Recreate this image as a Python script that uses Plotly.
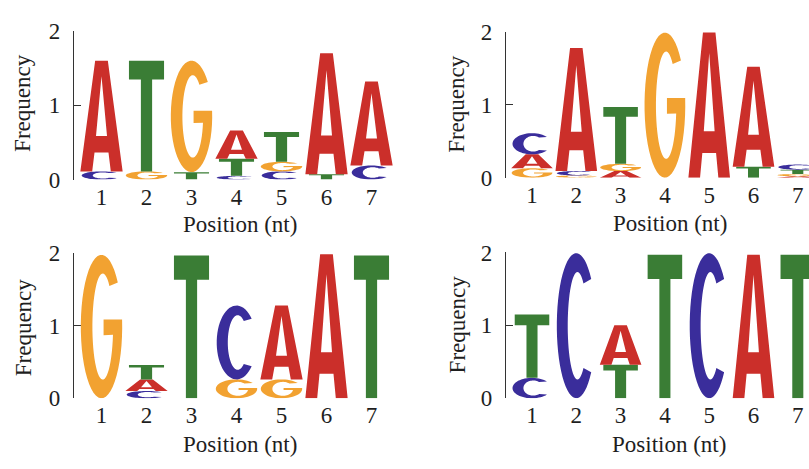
import numpy as np
import plotly.graph_objects as go

W, H = 809, 469
positions = [1, 2, 3, 4, 5, 6, 7]
tick_text = ["1", "2", "3", "4", "5", "6", "7"]

# Information content (bits) of each base at each motif position
m1_A = [1.49, 0.00, 0.00, 0.38, 0.00, 1.63, 1.13]
m1_C = [0.11, 0.00, 0.00, 0.05, 0.11, 0.00, 0.19]
m1_G = [0.00, 0.11, 1.50, 0.00, 0.13, 0.00, 0.00]
m1_T = [0.00, 1.49, 0.10, 0.23, 0.40, 0.07, 0.00]

m2_A = [0.19, 1.69, 0.09, 0.00, 1.99, 1.37, 0.02]
m2_C = [0.29, 0.06, 0.00, 0.00, 0.00, 0.00, 0.07]
m2_G = [0.13, 0.03, 0.10, 1.99, 0.00, 0.00, 0.03]
m2_T = [0.00, 0.00, 0.78, 0.00, 0.00, 0.15, 0.06]

m3_A = [0.00, 0.16, 0.00, 0.00, 1.02, 1.99, 0.00]
m3_C = [0.00, 0.10, 0.00, 1.02, 0.00, 0.00, 0.00]
m3_G = [1.98, 0.00, 0.00, 0.26, 0.26, 0.00, 0.00]
m3_T = [0.00, 0.20, 1.97, 0.00, 0.00, 0.00, 1.97]

m4_A = [0.00, 0.00, 0.54, 0.00, 0.00, 1.97, 0.00]
m4_C = [0.28, 1.99, 0.00, 0.00, 1.99, 0.00, 0.00]
m4_G = [0.00, 0.00, 0.00, 0.00, 0.00, 0.00, 0.00]
m4_T = [0.87, 0.00, 0.46, 1.97, 0.00, 0.00, 1.97]

motifs = [
    {"A": m1_A, "C": m1_C, "G": m1_G, "T": m1_T},
    {"A": m2_A, "C": m2_C, "G": m2_G, "T": m2_T},
    {"A": m3_A, "C": m3_C, "G": m3_G, "T": m3_T},
    {"A": m4_A, "C": m4_C, "G": m4_G, "T": m4_T},
]

COLORS = {"A": "#CB2F2A", "C": "#3A2D9B", "G": "#F2A231", "T": "#3A7D35"}
WIDTHS = {"A": 0.94, "C": 0.88, "G": 0.92, "T": 0.78}
FONT = "Liberation Serif, Times New Roman, serif"
INK = "#1e1e1e"


def arc(cx, cy, rx, ry, a0, a1, n=48):
    t = np.radians(np.linspace(a0, a1, n))
    return list(zip(cx + rx * np.cos(t), cy + ry * np.sin(t)))


# Letter outlines in a unit box (u across, v up)
GLYPHS = {
    "A": [
        [(0, 0), (0.35, 1), (0.65, 1), (1, 0), (0.72, 0), (0.665, 0.17),
         (0.335, 0.17), (0.28, 0)],
        [(0.37, 0.32), (0.5, 0.86), (0.63, 0.32)],
    ],
    "T": [
        [(0, 1), (1, 1), (1, 0.83), (0.66, 0.83), (0.66, 0), (0.34, 0),
         (0.34, 0.83), (0, 0.83)],
    ],
    "C": [
        arc(0.5, 0.5, 0.5, 0.5, 40, 320) + arc(0.53, 0.5, 0.25, 0.37, 308, 52),
    ],
    "G": [
        arc(0.5, 0.5, 0.5, 0.5, 38, 365.7) + [(0.55, 0.55), (0.55, 0.44)]
        + arc(0.53, 0.5, 0.25, 0.37, -9, -310),
    ],
}


def glyph_path(letter, xc, base, height):
    w = WIDTHS[letter]
    parts = []
    for poly in GLYPHS[letter]:
        pts = [f"{xc - w / 2 + u * w:.4f},{base + v * height:.4f}" for u, v in poly]
        parts.append("M " + " L ".join(pts) + " Z")
    return " ".join(parts)


# Panel geometry in pixels: y-axis line x, first column centre, column step,
# right edge, y pixel of 0 and of 2
panels = [
    dict(axis=74, c1=101.5, step=45.0, right=397, y0=177, y2=20),
    dict(axis=506, c1=532, step=44.3, right=809, y0=175, y2=21),
    dict(axis=74, c1=101.5, step=45.0, right=397, y0=408, y2=255),
    dict(axis=506, c1=532, step=44.3, right=809, y0=408, y2=254),
]
ytitle_px = [(23, 96), (457, 97), (23, 333), (457, 330)]
xtitle_px = [(240, 224), (670, 223), (240, 457), (669, 457)]

fig = go.Figure()
shapes = []
annotations = []
layout_axes = {}

for i, (p, motif) in enumerate(zip(panels, motifs)):
    k = "" if i == 0 else str(i + 1)
    xa, ya = "x" + k, "y" + k
    x_lo = 1 + (p["axis"] - p["c1"]) / p["step"]
    x_hi = 1 + (p["right"] - p["c1"]) / p["step"]

    totals = [sum(motif[b][j] for b in "ACGT") for j in range(len(positions))]
    fig.add_trace(go.Scatter(
        x=positions, y=totals, mode="markers", marker=dict(opacity=0),
        hoverinfo="skip", showlegend=False, xaxis=xa, yaxis=ya))

    # stack letters smallest at the bottom
    for j, pos in enumerate(positions):
        stack = sorted(((motif[b][j], b) for b in "ACGT" if motif[b][j] > 0))
        base = 0.0
        for h, b in stack:
            shapes.append(dict(
                type="path", path=glyph_path(b, pos, base, h),
                xref=xa, yref=ya, fillcolor=COLORS[b], fillrule="evenodd",
                line=dict(width=0), layer="above"))
            base += h

    layout_axes["xaxis" + k] = dict(
        domain=[p["axis"] / W, p["right"] / W], range=[x_lo, x_hi],
        anchor=ya, showgrid=False, zeroline=False, showline=False, ticks="",
        tickmode="array", tickvals=positions, ticktext=tick_text,
        tickfont=dict(family=FONT, size=23, color=INK), ticklabelstandoff=1)
    layout_axes["yaxis" + k] = dict(
        domain=[1 - p["y0"] / H, 1 - p["y2"] / H], range=[0, 2],
        anchor=xa, showgrid=False, zeroline=False, showline=True,
        linecolor="#333333", linewidth=1.3, ticks="inside", ticklen=7,
        tickwidth=1.3, tickcolor="#333333", tickmode="array",
        tickvals=[0, 1, 2], tickfont=dict(family=FONT, size=23, color=INK),
        ticklabelstandoff=8)

    tx, ty = ytitle_px[i]
    annotations.append(dict(
        text="Frequency", x=tx / W, y=1 - ty / H, xref="paper", yref="paper",
        textangle=-90, showarrow=False, xanchor="center", yanchor="middle",
        font=dict(family=FONT, size=23, color=INK)))
    tx, ty = xtitle_px[i]
    annotations.append(dict(
        text="Position (nt)", x=tx / W, y=1 - ty / H, xref="paper", yref="paper",
        showarrow=False, xanchor="center", yanchor="middle",
        font=dict(family=FONT, size=23, color=INK)))

fig.update_layout(
    width=W, height=H, margin=dict(l=0, r=0, t=0, b=0),
    paper_bgcolor="white", plot_bgcolor="white",
    shapes=shapes, annotations=annotations, showlegend=False,
    **layout_axes)

fig.write_html("out.html")
